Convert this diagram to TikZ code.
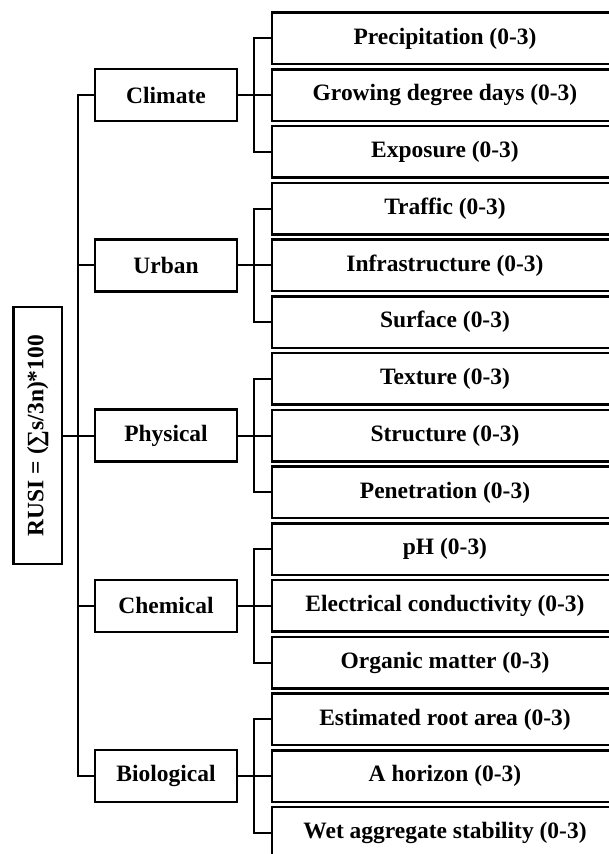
\documentclass[tikz,border=0pt]{standalone}
\usepackage{fontspec}
\setmainfont{Liberation Serif}
\usepackage{tikz}
\usetikzlibrary{calc}
\usetikzlibrary{positioning}
\tikzset{
  myline/.style={
    draw=black,
    line width=1.55pt,
  },
  myleaf/.style={
    draw=black,
    shape=rectangle,
    line width=1.7pt,
    align=center,
    inner sep=0pt,
    minimum width=8.65cm,
    minimum height=1.29cm,
    font=\fontsize{16.7}{20}\selectfont\bfseries
  },
  mycategory/.style={
    draw=black,
    shape=rectangle,
    line width=1.7pt,
    align=center,
    inner sep=0pt,
    minimum width=3.55cm,
    minimum height=1.3cm,
    font=\fontsize{16.7}{20}\selectfont\bfseries
  },
  myroot/.style={
    draw=black,
    shape=rectangle,
    line width=1.7pt,
    rotate=90,
    align=center,
    inner sep=0pt,
    minimum width=6.43cm,
    minimum height=1.21cm,
    font=\fontsize{16.7}{20}\selectfont\bfseries
  },
}
\begin{document}
\begin{tikzpicture}
    \useasboundingbox (0,0) rectangle (15.225,-21.35);

    \node[myroot] (R) at (0.944, -10.890) {RUSI = (∑s/3n)*100};

    \node[mycategory] (Cli) at (4.15, -2.378) {Climate};
    \node[mycategory] (Urb) at (4.15, -6.634) {Urban};
    \node[mycategory] (Phy) at (4.15, -10.890) {Physical};
    \node[mycategory] (Che) at (4.15, -15.146) {Chemical};
    \node[mycategory] (Bio) at (4.15, -19.403) {Biological};

    \node[myleaf] (c1) at (11.125, -0.959) {Precipitation (0-3)};
    \node[myleaf] (c2) at (11.125, -2.378) {Growing degree days (0-3)};
    \node[myleaf] (c3) at (11.125, -3.796) {Exposure (0-3)};
    \node[myleaf] (u1) at (11.125, -5.215) {Traffic (0-3)};
    \node[myleaf] (u2) at (11.125, -6.634) {Infrastructure (0-3)};
    \node[myleaf] (u3) at (11.125, -8.053) {Surface (0-3)};
    \node[myleaf] (p1) at (11.125, -9.471) {Texture (0-3)};
    \node[myleaf] (p2) at (11.125, -10.890) {Structure (0-3)};
    \node[myleaf] (p3) at (11.125, -12.309) {Penetration (0-3)};
    \node[myleaf] (h1) at (11.125, -13.728) {pH (0-3)};
    \node[myleaf] (h2) at (11.125, -15.146) {Electrical conductivity (0-3)};
    \node[myleaf] (h3) at (11.125, -16.565) {Organic matter (0-3)};
    \node[myleaf] (b1) at (11.125, -17.984) {Estimated root area (0-3)};
    \node[myleaf] (b2) at (11.125, -19.403) {A horizon (0-3)};
    \node[myleaf] (b3) at (11.125, -20.821) {Wet aggregate stability (0-3)};

    \coordinate (T) at (1.95, 0.0);
    \coordinate (B) at (6.35, 0.0);

    % root to categories
    \draw [myline] (R.south) -- (Phy.west);
    \draw [myline] (Cli.west) -- (Cli.west -| T) -- (Bio.west -| T) -- (Bio.west);
    \draw [myline] (Urb.west) -- (Urb.west -| T);
    \draw [myline] (Che.west) -- (Che.west -| T);

    % categories to indicators
    \draw [myline] (Cli.east) -- (c2.west);
    \draw [myline] (c1.west) -- (c1.west -| B) -- (c3.west -| B) -- (c3.west);
    \draw [myline] (Urb.east) -- (u2.west);
    \draw [myline] (u1.west) -- (u1.west -| B) -- (u3.west -| B) -- (u3.west);
    \draw [myline] (Phy.east) -- (p2.west);
    \draw [myline] (p1.west) -- (p1.west -| B) -- (p3.west -| B) -- (p3.west);
    \draw [myline] (Che.east) -- (h2.west);
    \draw [myline] (h1.west) -- (h1.west -| B) -- (h3.west -| B) -- (h3.west);
    \draw [myline] (Bio.east) -- (b2.west);
    \draw [myline] (b1.west) -- (b1.west -| B) -- (b3.west -| B) -- (b3.west);
  \end{tikzpicture}
\end{document}
